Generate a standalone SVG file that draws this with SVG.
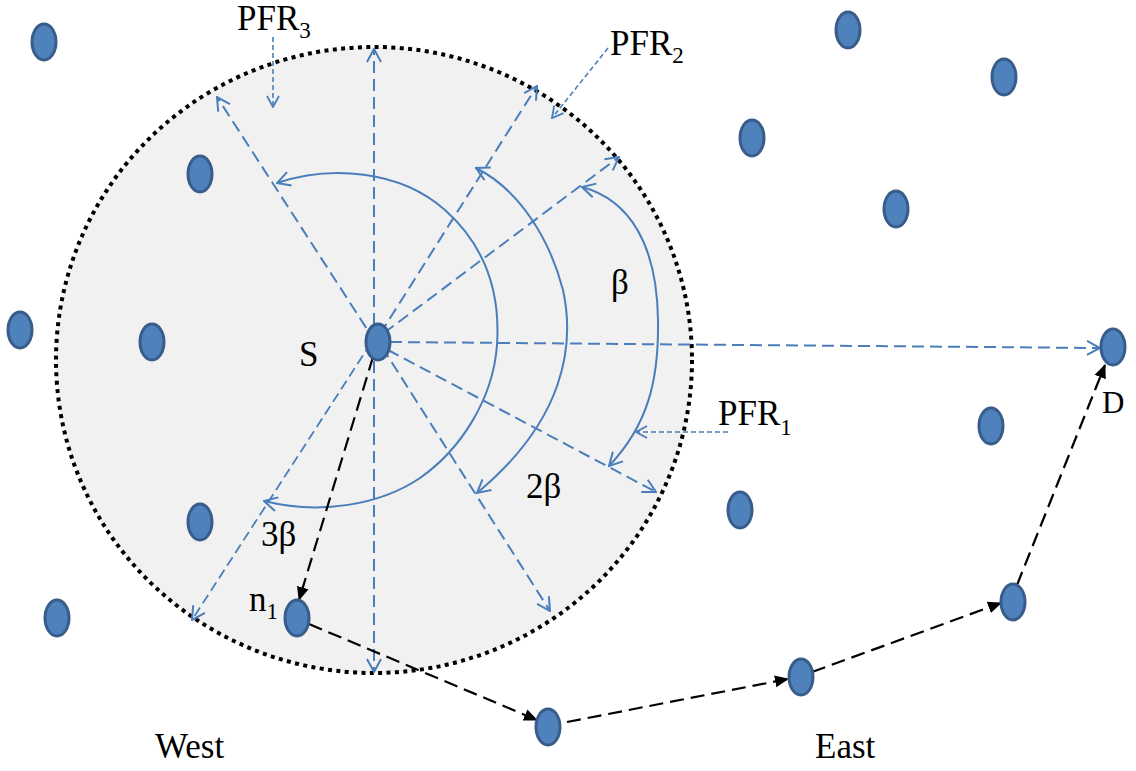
<svg xmlns="http://www.w3.org/2000/svg" width="1136" height="771" viewBox="0 0 1136 771">
  <style>
    .node { fill: #4F81BD; stroke: #385D8A; stroke-width: 3; }
    .ray { fill: none; stroke: #4A7EBB; stroke-width: 2; stroke-dasharray: 12 6; marker-end: url(#openArrow); }
    .arc { fill: none; stroke: #4A7EBB; stroke-width: 2; marker-start: url(#openArrow); marker-end: url(#openArrow); }
    .hint { fill: none; stroke: #4A7EBB; stroke-width: 1.6; stroke-dasharray: 5 3; marker-end: url(#hintArrow); }
    .hop { fill: none; stroke: #000; stroke-width: 2.2; stroke-dasharray: 14 7; marker-end: url(#solidArrow); }
    .lbl { font-family: "Liberation Serif", "Times New Roman", serif; font-size: 35px; fill: #000; }
    .sub { font-size: 23px; }
  </style>
  <defs>
    <marker id="openArrow" markerUnits="userSpaceOnUse" viewBox="-1 -9 15 18" refX="13" refY="0" markerWidth="15" markerHeight="18" orient="auto-start-reverse">
      <path d="M0,-7 L13,0 L0,7" fill="none" stroke="#4A7EBB" stroke-width="2"/>
    </marker>
    <marker id="hintArrow" markerUnits="userSpaceOnUse" viewBox="-1 -8 13 16" refX="11" refY="0" markerWidth="13" markerHeight="16" orient="auto">
      <path d="M0,-6 L11,0 L0,6" fill="none" stroke="#4A7EBB" stroke-width="1.8"/>
    </marker>
    <marker id="solidArrow" markerUnits="userSpaceOnUse" viewBox="0 -7 14 14" refX="13" refY="0" markerWidth="14" markerHeight="14" orient="auto">
      <path d="M0,-6 L14,0 L0,6 Z" fill="#000"/>
    </marker>
  </defs>

  <rect width="1136" height="771" fill="#FFFFFF"/>

  <!-- coverage area around S -->
  <g id="range">
    <ellipse cx="374" cy="360" rx="318" ry="313" fill="#F1F1F1" stroke="#000" stroke-width="4" stroke-dasharray="4 4.4"/>
  </g>

  <g id="connectors">
    <!-- broadcast directions from S -->
    <line class="ray" x1="376" y1="343" x2="217" y2="97"/>
    <line class="ray" x1="374" y1="343" x2="374" y2="49"/>
    <line class="ray" x1="380" y1="334" x2="537" y2="86"/>
    <line class="ray" x1="384" y1="333" x2="619" y2="157"/>
    <line class="ray" x1="390" y1="342" x2="1100" y2="348"/>
    <line class="ray" x1="388" y1="350" x2="656" y2="492"/>
    <line class="ray" x1="382" y1="347" x2="550" y2="611"/>
    <line class="ray" x1="374" y1="343" x2="374" y2="672"/>
    <line class="ray" x1="371" y1="343" x2="192" y2="620" style="stroke-width:1.8;stroke-dasharray:10 5"/>

    <!-- angular sweeps -->
    <path class="arc" d="M582,187 C630,200 657,245 658,320 C659,380 648,425 609,466"/>
    <path class="arc" d="M476,168 C520,190 550,240 563,290 C575,345 565,420 477,493"/>
    <path class="arc" d="M277,183 C330,165 400,170 445,210 C490,250 500,300 497,345 C493,400 460,450 420,478 C380,505 320,515 264,501"/>

    <!-- label pointers -->
    <line class="hint" x1="273" y1="37" x2="273" y2="107"/>
    <line class="hint" x1="608" y1="48" x2="552" y2="118"/>
    <line class="hint" x1="728" y1="432" x2="636" y2="432"/>

    <!-- forwarding path -->
    <line class="hop" x1="373" y1="357" x2="299" y2="600"/>
    <line class="hop" x1="309" y1="624" x2="537" y2="720"/>
    <line class="hop" x1="567" y1="722" x2="788" y2="679"/>
    <line class="hop" x1="812" y1="672" x2="1001" y2="603"/>
    <line class="hop" x1="1017" y1="585" x2="1105" y2="365"/>
  </g>

  <!-- nodes -->
  <g id="node-a"><ellipse class="node" cx="44" cy="42" rx="12" ry="18"/></g>
  <g id="node-b"><ellipse class="node" cx="200" cy="174" rx="12" ry="18"/></g>
  <g id="node-c"><ellipse class="node" cx="20" cy="330" rx="12" ry="18"/></g>
  <g id="node-d"><ellipse class="node" cx="152" cy="342" rx="12" ry="18"/></g>
  <g id="node-e"><ellipse class="node" cx="200" cy="522" rx="12" ry="18"/></g>
  <g id="node-f"><ellipse class="node" cx="57" cy="618" rx="12" ry="18"/></g>
  <g id="node-n1"><ellipse class="node" cx="297" cy="618" rx="12" ry="18"/></g>
  <g id="node-S"><ellipse class="node" cx="378" cy="342" rx="12" ry="18"/></g>
  <g id="node-g"><ellipse class="node" cx="548" cy="727" rx="12" ry="18"/></g>
  <g id="node-h"><ellipse class="node" cx="801" cy="677" rx="12" ry="18"/></g>
  <g id="node-i"><ellipse class="node" cx="1013" cy="602" rx="12" ry="18"/></g>
  <g id="node-D"><ellipse class="node" cx="1113" cy="347" rx="12" ry="18"/></g>
  <g id="node-j"><ellipse class="node" cx="991" cy="426" rx="12" ry="18"/></g>
  <g id="node-k"><ellipse class="node" cx="740" cy="510" rx="12" ry="18"/></g>
  <g id="node-l"><ellipse class="node" cx="896" cy="209" rx="12" ry="18"/></g>
  <g id="node-m"><ellipse class="node" cx="752" cy="138" rx="12" ry="18"/></g>
  <g id="node-o"><ellipse class="node" cx="848" cy="30" rx="12" ry="18"/></g>
  <g id="node-p"><ellipse class="node" cx="1004" cy="77" rx="12" ry="18"/></g>

  <!-- labels -->
  <g id="labels">
    <text class="lbl" x="237" y="30">PFR<tspan class="sub" dy="8">3</tspan></text>
    <text class="lbl" x="610" y="55">PFR<tspan class="sub" dy="8">2</tspan></text>
    <text class="lbl" x="718" y="425">PFR<tspan class="sub" dy="10">1</tspan></text>
    <text class="lbl" x="299" y="366">S</text>
    <text class="lbl" x="611" y="294">β</text>
    <text class="lbl" x="526" y="498">2β</text>
    <text class="lbl" x="261" y="546">3β</text>
    <text class="lbl" x="249" y="611">n<tspan class="sub" dy="8">1</tspan></text>
    <text class="lbl" x="1102" y="413" style="font-size:31px">D</text>
    <text class="lbl" x="155" y="758">West</text>
    <text class="lbl" x="815" y="758">East</text>
  </g>
</svg>
